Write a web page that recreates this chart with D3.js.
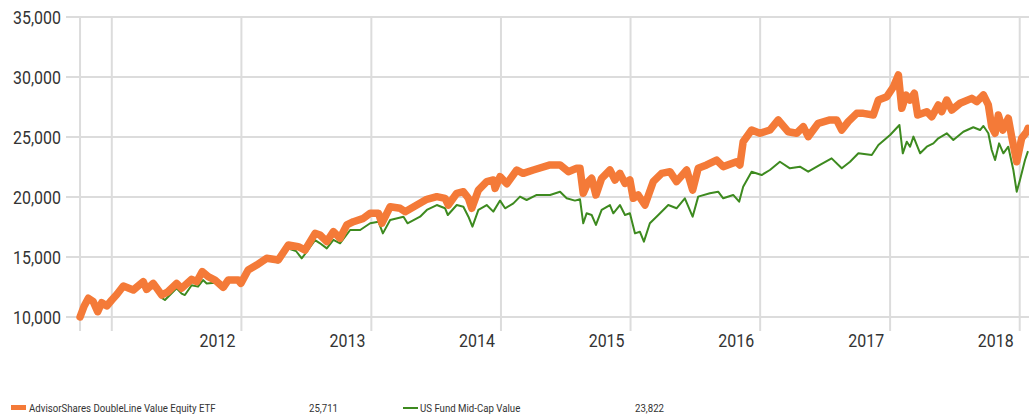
<!DOCTYPE html>
<html>
<head>
<meta charset="utf-8">
<script src="https://cdn.jsdelivr.net/npm/d3@7"></script>
<style>
  body { margin: 0; background: #fff; }
  svg { display: block; font-family: Roboto, "Liberation Sans", sans-serif; }
  .grid line { stroke: #dcdcdc; stroke-width: 2; }
  .tick-label { fill: #333; font-size: 19px; }
  .legend text { fill: #333; font-size: 11.5px; }
</style>
</head>
<body>
<div id="chart"></div>
<script>
// dates as decimal years, values are growth of 10,000
const fundYears = [2010.755, 2010.786, 2010.819, 2010.857, 2010.891, 2010.922, 2010.961, 2011.000, 2011.040, 2011.089,
  2011.166, 2011.243, 2011.269, 2011.320, 2011.385, 2011.433, 2011.500, 2011.539, 2011.616, 2011.655,
  2011.698, 2011.744, 2011.796, 2011.860, 2011.898, 2011.975, 2011.996, 2012.052, 2012.117, 2012.194,
  2012.284, 2012.361, 2012.438, 2012.490, 2012.567, 2012.605, 2012.657, 2012.708, 2012.759, 2012.811,
  2012.862, 2012.939, 2012.991, 2013.055, 2013.081, 2013.145, 2013.222, 2013.261, 2013.351, 2013.428,
  2013.505, 2013.569, 2013.594, 2013.659, 2013.710, 2013.749, 2013.775, 2013.826, 2013.890, 2013.941,
  2013.955, 2013.993, 2014.045, 2014.122, 2014.171, 2014.250, 2014.379, 2014.456, 2014.520, 2014.584,
  2014.610, 2014.635, 2014.674, 2014.700, 2014.733, 2014.777, 2014.841, 2014.880, 2014.918, 2014.957,
  2014.995, 2015.021, 2015.059, 2015.111, 2015.175, 2015.240, 2015.304, 2015.355, 2015.433, 2015.479,
  2015.522, 2015.587, 2015.664, 2015.715, 2015.818, 2015.844, 2015.869, 2015.934, 2015.998, 2016.075,
  2016.139, 2016.216, 2016.281, 2016.332, 2016.370, 2016.447, 2016.537, 2016.589, 2016.628, 2016.678,
  2016.743, 2016.794, 2016.871, 2016.910, 2016.975, 2017.026, 2017.064, 2017.090, 2017.123, 2017.154,
  2017.187, 2017.213, 2017.283, 2017.322, 2017.372, 2017.398, 2017.437, 2017.476, 2017.540, 2017.630,
  2017.669, 2017.720, 2017.758, 2017.784, 2017.810, 2017.835, 2017.869, 2017.912, 2017.938, 2017.977,
  2018.015, 2018.054, 2018.064];
const fundValues = [10000, 10900, 11560, 11275, 10440, 11190, 10920, 11420, 11900, 12580,
  12250, 12940, 12300, 12800, 11830, 12100, 12800, 12390, 13140, 12940,
  13780, 13360, 13080, 12470, 13080, 13080, 12800, 13920, 14330, 14890,
  14750, 16000, 15860, 15580, 16970, 16830, 16280, 17110, 16560, 17670,
  17940, 18220, 18640, 18640, 17810, 19190, 19060, 18780, 19330, 19810,
  20030, 19890, 19330, 20310, 20440, 19890, 19060, 20580, 21280, 21420,
  20720, 21700, 21100, 22250, 21970, 22250, 22670, 22670, 22110, 22390,
  22390, 20310, 21280, 21560, 20170, 21560, 22250, 21420, 21970, 21140,
  21420, 19890, 20170, 19330, 21280, 21970, 22110, 21280, 22250, 20580,
  22390, 22670, 23080, 22530, 22940, 22670, 24610, 25580, 25310, 25580,
  26420, 25440, 25310, 25860, 25030, 26140, 26420, 26420, 25580, 26280,
  26970, 26970, 26830, 28080, 28360, 29190, 30170, 27390, 28500, 28080,
  28640, 26830, 27110, 26690, 27670, 27110, 28080, 27250, 27810, 28220,
  27940, 28500, 27670, 25860, 25310, 26830, 25580, 26560, 25030, 22940,
  24890, 25440, 25711];

const catYears = [2010.755, 2010.786, 2010.819, 2010.857, 2010.891, 2010.922, 2010.961, 2011.000, 2011.040, 2011.089,
  2011.166, 2011.243, 2011.269, 2011.320, 2011.385, 2011.410, 2011.500, 2011.539, 2011.564, 2011.616,
  2011.665, 2011.704, 2011.732, 2011.796, 2011.860, 2011.898, 2011.975, 2011.996, 2012.052, 2012.117,
  2012.194, 2012.284, 2012.361, 2012.420, 2012.464, 2012.490, 2012.567, 2012.605, 2012.657, 2012.708,
  2012.759, 2012.837, 2012.914, 2012.991, 2013.055, 2013.089, 2013.145, 2013.248, 2013.279, 2013.376,
  2013.428, 2013.505, 2013.569, 2013.590, 2013.659, 2013.710, 2013.749, 2013.780, 2013.826, 2013.890,
  2013.941, 2013.993, 2014.032, 2014.096, 2014.147, 2014.198, 2014.276, 2014.379, 2014.456, 2014.507,
  2014.571, 2014.610, 2014.635, 2014.661, 2014.700, 2014.733, 2014.777, 2014.841, 2014.867, 2014.918,
  2014.957, 2014.995, 2015.034, 2015.072, 2015.103, 2015.149, 2015.214, 2015.291, 2015.355, 2015.419,
  2015.479, 2015.522, 2015.612, 2015.676, 2015.715, 2015.792, 2015.838, 2015.869, 2015.934, 2016.011,
  2016.075, 2016.152, 2016.229, 2016.306, 2016.370, 2016.460, 2016.550, 2016.628, 2016.692, 2016.756,
  2016.859, 2016.910, 2017.000, 2017.072, 2017.098, 2017.129, 2017.154, 2017.180, 2017.232, 2017.283,
  2017.334, 2017.372, 2017.437, 2017.488, 2017.565, 2017.642, 2017.694, 2017.720, 2017.758, 2017.784,
  2017.810, 2017.841, 2017.874, 2017.912, 2017.951, 2017.977, 2018.002, 2018.041, 2018.064];
const catValues = [10000, 10800, 11400, 11200, 10500, 11100, 10850, 11300, 11800, 12450,
  12150, 12800, 12200, 12650, 11600, 11420, 12400, 11950, 11830, 12650,
  12530, 13080, 12800, 12850, 12350, 12950, 12950, 12700, 13800, 14250,
  14750, 14550, 15700, 15500, 14890, 15250, 16400, 16140, 15720, 16420,
  16140, 17250, 17250, 17810, 17940, 16970, 18080, 18360, 17810, 18360,
  18920, 19330, 19060, 18500, 19330, 19190, 18360, 17530, 18920, 19330,
  18780, 19700, 19060, 19470, 20030, 19750, 20170, 20170, 20440, 19890,
  19700, 19810, 17810, 18640, 18500, 17670, 18920, 19330, 18640, 19330,
  18500, 18640, 16970, 17110, 16280, 17810, 18500, 19330, 19060, 19890,
  18360, 20030, 20310, 20440, 19890, 20170, 19610, 20860, 22110, 21830,
  22250, 22940, 22390, 22530, 22110, 22670, 23220, 22390, 22940, 23640,
  23500, 24330, 25170, 26000, 23640, 24610, 24190, 25030, 23640, 24190,
  24470, 24890, 25310, 24750, 25440, 25810, 25580, 25920, 25310, 23920,
  23080, 24470, 23640, 24190, 22250, 20440, 21420, 23080, 23822];

const yTicks = [10000, 15000, 20000, 25000, 30000, 35000];
const gridYears = [2011, 2012, 2013, 2014, 2015, 2016, 2017, 2018];
const labelYears = [2012, 2013, 2014, 2015, 2016, 2017, 2018];
const seriesNames = ["AdvisorShares DoubleLine Value Equity ETF", "US Fund Mid-Cap Value"];
const seriesEnd = ["25,711", "23,822"];

const width = 1029, height = 418;
const fundColor = "#f47a38", catColor = "#3d8a1f";
const narrow = 0.84; // squeeze text to look like the condensed face

function toDate(y) {
  const yr = Math.floor(y);
  const start = new Date(yr, 0, 1), end = new Date(yr + 1, 0, 1);
  return new Date(+start + (y - yr) * (end - start));
}

function place(sel, fx, fy) {
  return sel.attr("transform", (d, i) => `translate(${fx(d, i)},${fy(d, i)}) scale(${narrow},1)`);
}

const x = d3.scaleTime()
  .domain([new Date(2011, 0, 1), new Date(2018, 0, 1)])
  .range([111.8, 1019.7]);
const y = d3.scaleLinear().domain([10000, 35000]).range([317, 17]);
const xStart = toDate(fundYears[0]);

const svg = d3.select("#chart").append("svg")
  .attr("width", width).attr("height", height);

const grid = svg.append("g").attr("class", "grid");
grid.selectAll(".h").data(yTicks).join("line")
  .attr("x1", 66).attr("x2", width)
  .attr("y1", d => y(d)).attr("y2", d => y(d));
grid.selectAll(".v").data([xStart, ...gridYears.map(d => new Date(d, 0, 1))]).join("line")
  .attr("x1", d => x(d)).attr("x2", d => x(d))
  .attr("y1", y(35000)).attr("y2", y(10000) + 14);

svg.append("g").selectAll("text").data(yTicks).join("text")
  .attr("class", "tick-label")
  .attr("dy", "0.35em")
  .attr("text-anchor", "end")
  .call(place, () => 61, d => y(d))
  .text(d => d3.format(",")(d));

svg.append("g").selectAll("text").data(labelYears).join("text")
  .attr("class", "tick-label")
  .attr("text-anchor", "end")
  .call(place, d => x(new Date(d, 0, 1)) - 6, () => 347)
  .text(d => d);

const line = d3.line().x(d => x(d[0])).y(d => y(d[1]));
const catData = catYears.map((d, i) => [toDate(d), catValues[i]]);
const fundData = fundYears.map((d, i) => [toDate(d), fundValues[i]]);

svg.append("path").datum(catData)
  .attr("d", line).attr("fill", "none")
  .attr("stroke", catColor).attr("stroke-width", 2)
  .attr("stroke-linejoin", "round");
svg.append("path").datum(fundData)
  .attr("d", line).attr("fill", "none")
  .attr("stroke", fundColor).attr("stroke-width", 7.5)
  .attr("stroke-linejoin", "round").attr("stroke-linecap", "round");

// legend
const legend = svg.append("g").attr("class", "legend");
legend.append("rect").attr("x", 11).attr("y", 405).attr("width", 15).attr("height", 5).attr("fill", fundColor);
legend.append("text").call(place, () => 29, () => 412).text(seriesNames[0]);
legend.append("text").attr("text-anchor", "end").call(place, () => 338, () => 412).text(seriesEnd[0]);
legend.append("rect").attr("x", 403).attr("y", 407).attr("width", 15).attr("height", 2).attr("fill", catColor);
legend.append("text").call(place, () => 420, () => 412).text(seriesNames[1]);
legend.append("text").attr("text-anchor", "end").call(place, () => 664, () => 412).text(seriesEnd[1]);
</script>
</body>
</html>
